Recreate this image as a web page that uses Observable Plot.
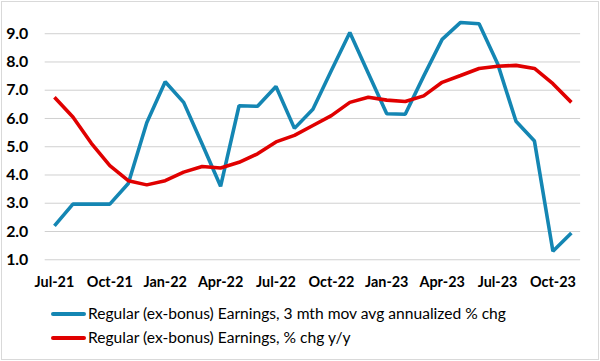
<!DOCTYPE html>
<html>
<head>
<meta charset="utf-8">
<script src="https://cdn.jsdelivr.net/npm/d3@7"></script>
<script src="https://cdn.jsdelivr.net/npm/@observablehq/plot@0.6"></script>
<style>
  html, body { margin: 0; padding: 0; background: #fff; }
  #frame { position: relative; width: 596px; height: 357px; border: 1px solid #d9d9d9; margin: 1px; background: #fff; overflow: hidden; }
  #chart { position: absolute; left: -2px; top: -2px; }
  .legend { position: absolute; left: 49px; font-family: Lato, "Open Sans", sans-serif; font-size: 15.6px; color: #000; white-space: nowrap; }
  .legend .sw { display: inline-block; width: 35px; height: 4px; border-radius: 2px; vertical-align: middle; margin-right: 2px; position: relative; top: -1px; }
</style>
</head>
<body>
<div id="frame">
  <div id="chart"></div>
  <div class="legend" id="leg1" style="top: 302px;"></div>
  <div class="legend" id="leg2" style="top: 326px;"></div>
</div>
<script>
const months = ["Jul-21","Aug-21","Sep-21","Oct-21","Nov-21","Dec-21",
  "Jan-22","Feb-22","Mar-22","Apr-22","May-22","Jun-22","Jul-22","Aug-22","Sep-22","Oct-22","Nov-22","Dec-22",
  "Jan-23","Feb-23","Mar-23","Apr-23","May-23","Jun-23","Jul-23","Aug-23","Sep-23","Oct-23","Nov-23"];
const tickLabels = ["Jul-21","Oct-21","Jan-22","Apr-22","Jul-22","Oct-22","Jan-23","Apr-23","Jul-23","Oct-23"];
const yTicks = [1,2,3,4,5,6,7,8,9];

const seriesNames = [
  "Regular (ex-bonus) Earnings, 3 mth mov avg annualized % chg",
  "Regular (ex-bonus) Earnings, % chg y/y"
];
const seriesColors = ["#1486b3", "#e00000"];

const avg3m = [2.2,2.97,2.97,2.97,3.7,5.85,7.3,6.57,5.1,3.6,6.45,6.43,7.13,5.65,6.33,7.7,9.04,7.6,6.17,6.15,7.5,8.8,9.4,9.35,7.95,5.9,5.2,1.3,1.95];
const yoy = [6.75,6.05,5.12,4.33,3.8,3.65,3.8,4.1,4.3,4.25,4.45,4.75,5.17,5.4,5.75,6.1,6.57,6.75,6.65,6.6,6.8,7.28,7.52,7.77,7.85,7.88,7.77,7.23,6.57];

const data = [];
months.forEach((m, i) => {
  data.push({idx: i, month: m, value: avg3m[i], series: seriesNames[0]});
  data.push({idx: i, month: m, value: yoy[i], series: seriesNames[1]});
});
const tickIdx = tickLabels.map(t => months.indexOf(t));

const chart = Plot.plot({
  width: 602,
  height: 295,
  marginLeft: 45,
  marginRight: 18,
  marginTop: 5,
  marginBottom: 34,
  x: {type: "linear", domain: [-0.5, months.length - 0.5], label: null},
  y: {domain: [1, 10], label: null},
  color: {domain: seriesNames, range: seriesColors},
  style: {fontFamily: "Lato, 'Open Sans', sans-serif", fontSize: "16px", color: "#000", background: "#fff"},
  marks: [
    Plot.ruleY(yTicks, {stroke: "#d0d0d0", strokeWidth: 1}),
    Plot.axisY({ticks: yTicks, tickSize: 0, tickPadding: 17, tickFormat: d => d.toFixed(1), fontWeight: "bold", fontSize: 16, label: null}),
    Plot.axisX({ticks: tickIdx, tickSize: 0, tickPadding: 17, tickFormat: i => months[i], fontWeight: "bold", fontSize: 14.5, label: null}),
    Plot.line(data, {x: "idx", y: "value", z: "series", stroke: "series", strokeWidth: 3.6, strokeLinejoin: "miter", strokeLinecap: "butt"})
  ]
});
document.getElementById("chart").appendChild(chart);

[["leg1", 0], ["leg2", 1]].forEach(([id, i]) => {
  const el = document.getElementById(id);
  const sw = document.createElement("span");
  sw.className = "sw";
  sw.style.background = seriesColors[i];
  el.appendChild(sw);
  el.appendChild(document.createTextNode(seriesNames[i]));
});
</script>
</body>
</html>
